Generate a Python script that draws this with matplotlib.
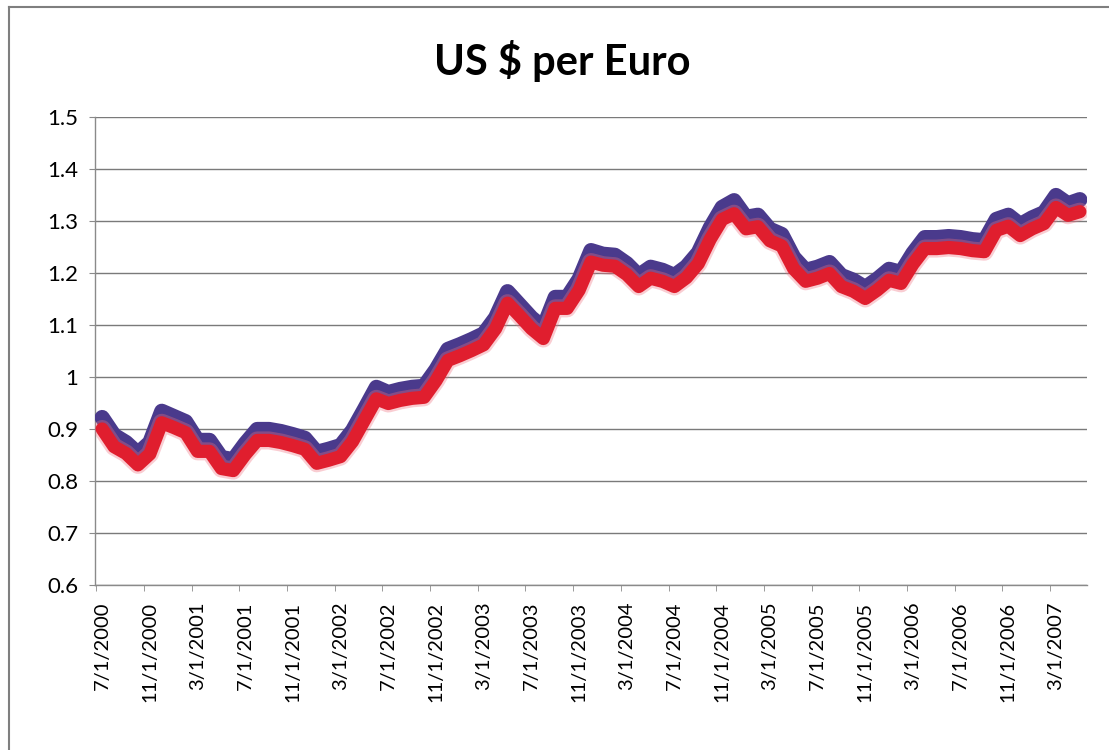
import matplotlib
matplotlib.use("Agg")
import matplotlib.pyplot as plt
from matplotlib.lines import Line2D
from matplotlib.ticker import FixedLocator, FuncFormatter
import pandas as pd

plt.rcParams['font.family'] = ['Lato', 'DejaVu Sans']

title = "US $ per Euro"
start_month = "2000-07-01"

# upper (blue) series, monthly
blue_vals = [0.922, 0.888, 0.874, 0.853, 0.874, 0.934, 0.924, 0.914, 0.878, 0.878,
             0.845, 0.841, 0.872, 0.899, 0.899, 0.895, 0.889, 0.882, 0.855, 0.861,
             0.868, 0.897, 0.938, 0.980, 0.970, 0.976, 0.980, 0.982, 1.014, 1.053,
             1.062, 1.072, 1.083, 1.114, 1.164, 1.139, 1.114, 1.095, 1.153, 1.153,
             1.188, 1.243, 1.236, 1.234, 1.218, 1.195, 1.211, 1.205, 1.195, 1.212,
             1.239, 1.287, 1.326, 1.339, 1.307, 1.311, 1.284, 1.274, 1.230, 1.205,
             1.211, 1.220, 1.195, 1.186, 1.172, 1.188, 1.207, 1.201, 1.238, 1.268,
             1.268, 1.270, 1.268, 1.264, 1.262, 1.303, 1.311, 1.293, 1.306, 1.316,
             1.349, 1.333, 1.341]

# lower (red) series, monthly
red_vals = [0.900, 0.866, 0.853, 0.831, 0.852, 0.912, 0.903, 0.893, 0.857, 0.857,
            0.824, 0.820, 0.851, 0.878, 0.878, 0.874, 0.868, 0.861, 0.834, 0.840,
            0.847, 0.876, 0.917, 0.958, 0.949, 0.955, 0.959, 0.961, 0.993, 1.032,
            1.041, 1.051, 1.062, 1.093, 1.142, 1.118, 1.093, 1.074, 1.132, 1.132,
            1.167, 1.221, 1.215, 1.213, 1.197, 1.174, 1.190, 1.184, 1.174, 1.191,
            1.218, 1.265, 1.303, 1.314, 1.285, 1.289, 1.262, 1.252, 1.208, 1.184,
            1.190, 1.199, 1.174, 1.165, 1.151, 1.167, 1.186, 1.180, 1.217, 1.247,
            1.247, 1.249, 1.247, 1.243, 1.241, 1.282, 1.290, 1.272, 1.285, 1.295,
            1.326, 1.311, 1.318]

y_ticks = [0.6, 0.7, 0.8, 0.9, 1.0, 1.1, 1.2, 1.3, 1.4, 1.5]
label_every = 4

dates = pd.date_range(start_month, periods=len(blue_vals), freq="MS")
x = list(range(len(dates)))
labels = [f"{d.month}/{d.day}/{d.year}" for d in dates]

W, H = 1109, 750
fig = plt.figure(figsize=(W / 100, H / 100), dpi=100)
fig.patch.set_facecolor("white")

# chart area border
fig.add_artist(Line2D([9 / W, 9 / W], [1 - 7 / H, 0], color="#7f7f7f", lw=1.5, transform=fig.transFigure))
fig.add_artist(Line2D([9 / W, 1.0], [1 - 7 / H, 1 - 7 / H], color="#7f7f7f", lw=1.5, transform=fig.transFigure))

ax = fig.add_axes([95 / W, 1 - 585 / H, 992 / W, 468 / H])

ax.plot(x, blue_vals, color="#4a3a8c", lw=11, solid_joinstyle="round", solid_capstyle="round", zorder=3)
ax.plot(x, red_vals, color="#f07080", lw=13, alpha=0.35, solid_joinstyle="round", solid_capstyle="round", zorder=4)
ax.plot(x, red_vals, color="#e01e2e", lw=9.5, solid_joinstyle="round", solid_capstyle="round", zorder=5)

ax.set_xlim(-0.6, len(x) - 0.4)
ax.set_ylim(0.6, 1.5)

ax.set_yticks(y_ticks)
ax.yaxis.set_major_formatter(FuncFormatter(lambda v, p: f"{v:g}"))
ax.grid(axis="y", color="#7a7a7a", lw=1.0)
ax.set_axisbelow(True)

tick_idx = x[::label_every]
ax.xaxis.set_major_locator(FixedLocator(tick_idx))
ax.set_xticklabels([labels[i] for i in tick_idx], rotation=90, fontsize=14.5)
ax.xaxis.set_minor_locator(FixedLocator([i - 0.5 for i in tick_idx]))
ax.tick_params(axis="x", which="major", length=0, pad=12)
ax.tick_params(axis="x", which="minor", length=4, color="#8a8a8a")
ax.tick_params(axis="y", length=4, color="#8a8a8a", labelsize=16, pad=8)

for s in ["top", "right"]:
    ax.spines[s].set_visible(False)
for s in ["left", "bottom"]:
    ax.spines[s].set_color("#8a8a8a")
    ax.spines[s].set_linewidth(1.0)

fig.text(562 / W, 1 - 61 / H, title, ha="center", va="center", fontsize=30, fontweight="bold")

fig.savefig("out.png", dpi=100)
